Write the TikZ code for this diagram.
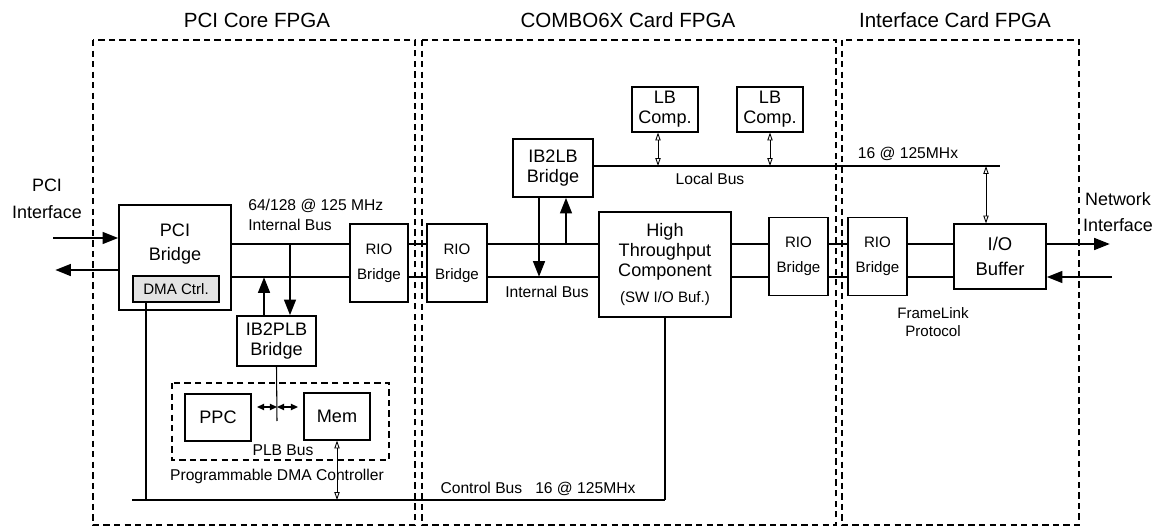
\documentclass[tikz,border=0pt]{standalone}
\usepackage{fontspec}
\setmainfont{Liberation Sans}
\usetikzlibrary{arrows.meta,positioning}

\begin{document}
\begin{tikzpicture}[
    x=0.02cm, y=-0.02cm,
    every node/.style={font=\fontsize{10.3}{11.5}\selectfont, inner sep=0pt},
    blk/.style={
      rectangle, draw, line width=0.6pt, fill=white, align=center
    },
    riobox/.style={
      blk, font=\fontsize{8.6}{10}\selectfont,
      minimum width=1.18cm, minimum height=1.55cm
    },
    titletext/.style={font=\fontsize{11.7}{13}\selectfont},
    lbl/.style={font=\fontsize{8.9}{11.4}\selectfont, align=center},
    region/.style={draw, line width=0.6pt, dash pattern=on 3.6pt off 2.4pt},
    bus/.style={line width=1.7pt},
    busarr/.style={line width=1.7pt, -{Triangle[length=9pt,width=6.5pt]}},
    wire/.style={line width=0.6pt},
    ctlarr/.style={line width=0.5pt,
      {Triangle[open,length=4.5pt,width=3pt]}-{Triangle[open,length=4.5pt,width=3pt]}},
    plbarr/.style={line width=1.1pt,
      {Triangle[length=4pt,width=3.5pt]}-{Triangle[length=4pt,width=3.5pt]}}
  ]
    \useasboundingbox (0,0) rectangle (1164,527);

    % ── FPGA regions ──
    \draw[region] (93,40) rectangle (415,525);
    \draw[region] (422,40) rectangle (836,525);
    \draw[region] (842,40) rectangle (1079,525);
    \node[titletext] (t1) at (257,20) {PCI Core FPGA};
    \node[titletext] (t2) at (628,20) {COMBO6X Card FPGA};
    \node[titletext] (t3) at (955,20) {Interface Card FPGA};

    % ── PCI Core FPGA ──
    \node[blk, minimum width=2.24cm, minimum height=2.1cm] (pcib) at (175,257.5) {};
    \node[align=center, font=\fontsize{10.3}{14}\selectfont] (pcibtext) at (175,244) {PCI\\Bridge};
    \node[blk, fill=gray!22, font=\fontsize{8.6}{10}\selectfont,
      minimum width=1.72cm, minimum height=0.52cm] (dma) at (176,289) {DMA Ctrl.};
    \node[riobox, minimum width=1.16cm, minimum height=1.56cm] (rio1) at (379,263) {RIO\\[4pt]Bridge};
    \node[blk, minimum width=1.58cm, minimum height=1.0cm] (ib2plb) at (276.5,341) {IB2PLB\\Bridge};
    \node[blk, minimum width=1.32cm, minimum height=0.94cm] (ppc) at (218,417.5) {PPC};
    \node[blk, minimum width=1.32cm, minimum height=0.94cm] (mem) at (337,416.5) {Mem};
    \draw[region] (172,383) rectangle (389,460);

    % ── COMBO6X Card FPGA ──
    \node[riobox, minimum width=1.2cm, minimum height=1.56cm] (rio2) at (457,263) {RIO\\[4pt]Bridge};
    \node[blk, minimum width=1.6cm, minimum height=1.16cm] (ib2lb) at (553,168) {IB2LB\\Bridge};
    \node[blk, minimum width=1.32cm, minimum height=0.9cm] (lb1) at (665,109.5) {LB\\Comp.};
    \node[blk, minimum width=1.32cm, minimum height=0.9cm] (lb2) at (770,109.5) {LB\\Comp.};
    \node[blk, minimum width=2.64cm, minimum height=2.1cm] (htc) at (665,264.5)
      {High\\Throughput\\Component\\[3pt]{\fontsize{8.6}{10}\selectfont (SW I/O Buf.)}};
    \node[riobox] (rio3) at (798.5,256.5) {RIO\\[4pt]Bridge};

    % ── Interface Card FPGA ──
    \node[riobox] (rio4) at (877.5,256.5) {RIO\\[4pt]Bridge};
    \node[blk, font=\fontsize{10.5}{14}\selectfont,
      minimum width=1.84cm, minimum height=1.3cm] (iobuf) at (1000,256.5) {I/O\\Buffer};

    % ── bus taps ──
    \coordinate (busT) at (0,244);
    \coordinate (busB) at (0,277);
    \coordinate (pciIn) at (53,238);
    \coordinate (pciOut) at (55,270);
    \coordinate (netOut) at (1110,244);
    \coordinate (netIn) at (1112,277);
    \coordinate (tapA) at (290,244);
    \coordinate (tapB) at (264,277);
    \coordinate (tapC) at (539,277);
    \coordinate (tapD) at (566,244);
    \coordinate (plbL) at (257,407);
    \coordinate (plbM) at (277,407);
    \coordinate (plbR) at (298,407);
    \coordinate (plbEnd) at (277,421);
    \coordinate (lbE) at (1000,166);
    \coordinate (lbT1) at (658,166);
    \coordinate (lbT2) at (770,166);
    \coordinate (lbT3) at (986,166);
    \coordinate (cbL) at (132,500);
    \coordinate (cbR) at (665,500);
    \coordinate (cbD) at (146,500);

    % ── internal bus ──
    \draw[busarr] (pciIn) -- (pcib.west |- pciIn);
    \draw[busarr] (pcib.west |- pciOut) -- (pciOut);
    \draw[bus] (pcib.east |- busT) -- (rio1.west |- busT);
    \draw[bus] (pcib.east |- busB) -- (rio1.west |- busB);
    \draw[bus] (rio1.east |- busT) -- (rio2.west |- busT);
    \draw[bus] (rio1.east |- busB) -- (rio2.west |- busB);
    \draw[bus] (rio2.east |- busT) -- (htc.west |- busT);
    \draw[bus] (rio2.east |- busB) -- (htc.west |- busB);
    \draw[bus] (htc.east |- busT) -- (rio3.west |- busT);
    \draw[bus] (htc.east |- busB) -- (rio3.west |- busB);
    \draw[bus] (rio3.east |- busT) -- (rio4.west |- busT);
    \draw[bus] (rio3.east |- busB) -- (rio4.west |- busB);
    \draw[bus] (rio4.east |- busT) -- (iobuf.west |- busT);
    \draw[bus] (rio4.east |- busB) -- (iobuf.west |- busB);
    \draw[busarr] (iobuf.east |- busT) -- (netOut);
    \draw[busarr] (netIn) -- (iobuf.east |- busB);

    \draw[busarr] (tapA) -- (tapA |- ib2plb.north);
    \draw[busarr] (tapB |- ib2plb.north) -- (tapB);
    \draw[busarr] (tapC |- ib2lb.south) -- (tapC);
    \draw[busarr] (tapD) -- (tapD |- ib2lb.south);

    % ── PLB, local and control bus ──
    \draw[wire] (ib2plb.south) -- (plbEnd);
    \draw[plbarr] (plbL) -- (plbM);
    \draw[plbarr] (plbM) -- (plbR);
    \draw[wire] (ib2lb.east |- lbE) -- (lbE);
    \draw[ctlarr] (lbT1 |- lb1.south) -- (lbT1);
    \draw[ctlarr] (lbT2 |- lb2.south) -- (lbT2);
    \draw[ctlarr] (lbT3) -- (lbT3 |- iobuf.north);
    \draw[wire] (cbL) -- (cbR);
    \draw[wire] (cbD |- dma.south) -- (cbD);
    \draw[wire] (htc.south) -- (htc.south |- cbR);
    \draw[ctlarr] (mem.south) -- (mem.south |- cbR);

    % ── labels ──
    \node[align=center, font=\fontsize{10.2}{15}\selectfont] (pcilbl) at (47,199) {PCI\\Interface};
    \node[align=center, font=\fontsize{10.2}{15}\selectfont] (netlbl) at (1118,212) {Network\\Interface};
    \node[lbl, align=left, anchor=west] (ibuslbl) at (248,215) {64/128 @ 125 MHz\\Internal Bus};
    \node[lbl] (ibus2lbl) at (547,292) {Internal Bus};
    \node[lbl] (lbuslbl) at (710,179) {Local Bus};
    \node[lbl] (lbfreq) at (908,154) {16 @ 125MHx};
    \node[lbl, font=\fontsize{8.6}{10.5}\selectfont] (fllbl) at (933,322) {FrameLink\\Protocol};
    \node[lbl] (plblbl) at (283,450) {PLB Bus};
    \node[lbl] (pdmalbl) at (277,476) {Programmable DMA Controller};
    \node[lbl] (cblbl) at (538,489) {Control Bus\ \ \ 16 @ 125MHx};

  \end{tikzpicture}
\end{document}
